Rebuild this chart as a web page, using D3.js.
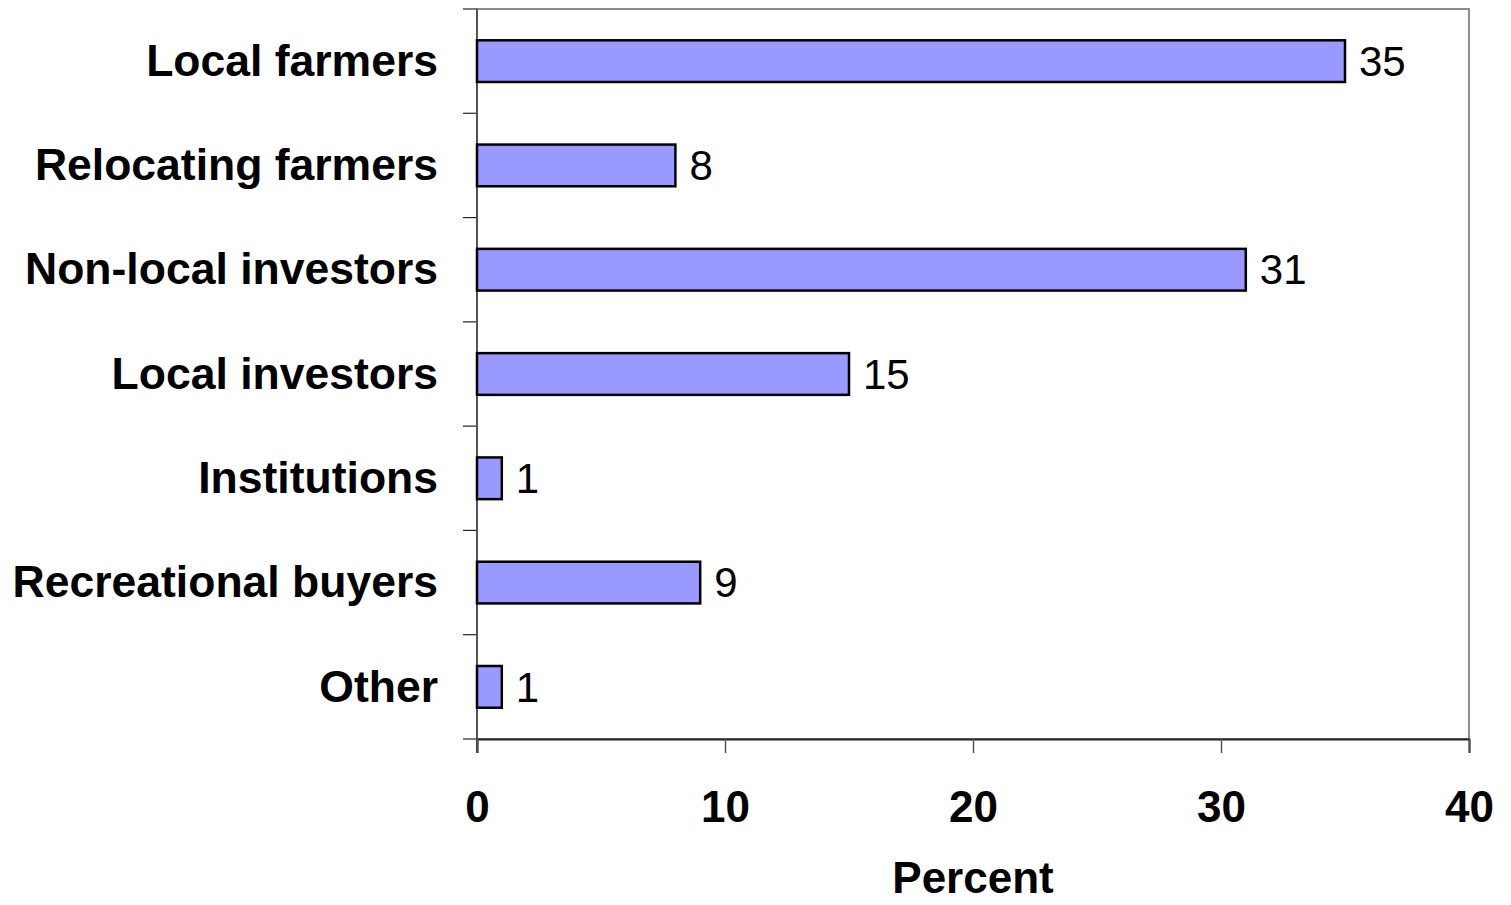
<!DOCTYPE html>
<html>
<head>
<meta charset="utf-8">
<script src="https://cdn.jsdelivr.net/npm/d3@7"></script>
<style>
  body { margin: 0; background: #fff; }
  text { font-family: "Liberation Sans", Arial, sans-serif; }
</style>
</head>
<body>
<div id="chart"></div>
<script>
var categories = ["Local farmers", "Relocating farmers", "Non-local investors", "Local investors", "Institutions", "Recreational buyers", "Other"];
var values = [35, 8, 31, 15, 1, 9, 1];
var xTicks = [0, 10, 20, 30, 40];

var width = 1511, height = 905;
var plot = {left: 477, top: 9, right: 1469, bottom: 739};

var svg = d3.select("#chart")
    .append("svg")
        .attr("width", width)
        .attr("height", height);

var x = d3.scaleLinear().domain([0, 40]).range([plot.left, plot.right]);
var y = d3.scaleBand().domain(categories).range([plot.top, plot.bottom]).paddingInner(0.6).paddingOuter(0.3);
var yEdge = d3.scaleLinear().domain([0, categories.length]).range([plot.top, plot.bottom]);

// plot area border (grey)
svg.append("rect")
    .attr("x", plot.left)
    .attr("y", plot.top)
    .attr("width", plot.right - plot.left)
    .attr("height", plot.bottom - plot.top)
    .attr("fill", "none")
    .attr("stroke", "#8c8c8c")
    .attr("stroke-width", 2);

// category ticks on the left axis
svg.append("g")
    .selectAll("line")
    .data(d3.range(categories.length + 1))
    .join("line")
        .attr("x1", plot.left - 14)
        .attr("x2", plot.left)
        .attr("y1", d => yEdge(d))
        .attr("y2", d => yEdge(d))
        .attr("stroke", "#222")
        .attr("stroke-width", 1.2);

svg.append("line")
    .attr("x1", plot.left).attr("x2", plot.left)
    .attr("y1", plot.top).attr("y2", plot.bottom + 14)
    .attr("stroke", "#555")
    .attr("stroke-width", 2);

// bottom axis
var xAxis = d3.axisBottom(x).tickValues(xTicks).tickSize(14).tickPadding(38);
var gx = svg.append("g")
    .attr("transform", `translate(0,${plot.bottom})`)
    .call(xAxis);
gx.select(".domain").attr("stroke", "#222").attr("stroke-width", 2);
gx.selectAll(".tick line").attr("stroke", "#555").attr("stroke-width", 1.5);
gx.selectAll(".tick text")
    .attr("font-family", "Liberation Sans, Arial, sans-serif")
    .attr("font-size", 44)
    .attr("font-weight", "bold")
    .attr("fill", "#000");

// bars
svg.append("g")
    .selectAll("rect")
    .data(categories)
    .join("rect")
        .attr("x", x(0))
        .attr("y", d => y(d))
        .attr("width", (d, i) => x(values[i]) - x(0))
        .attr("height", y.bandwidth())
        .attr("fill", "#9999ff")
        .attr("stroke", "#000")
        .attr("stroke-width", 2.5);

// value labels
svg.append("g")
    .selectAll("text")
    .data(categories)
    .join("text")
        .attr("x", (d, i) => x(values[i]) + 14)
        .attr("y", d => y(d) + y.bandwidth() / 2)
        .attr("dy", "0.35em")
        .attr("font-size", 42)
        .text((d, i) => values[i]);

// category labels
svg.append("g")
    .selectAll("text")
    .data(categories)
    .join("text")
        .attr("x", 438)
        .attr("y", d => y(d) + y.bandwidth() / 2)
        .attr("dy", "0.33em")
        .attr("text-anchor", "end")
        .attr("font-size", 44.5)
        .attr("font-weight", "bold")
        .text(d => d);

svg.append("text")
    .attr("x", (plot.left + plot.right) / 2)
    .attr("y", 893)
    .attr("text-anchor", "middle")
    .attr("font-size", 44)
    .attr("font-weight", "bold")
    .text("Percent");
</script>
</body>
</html>
